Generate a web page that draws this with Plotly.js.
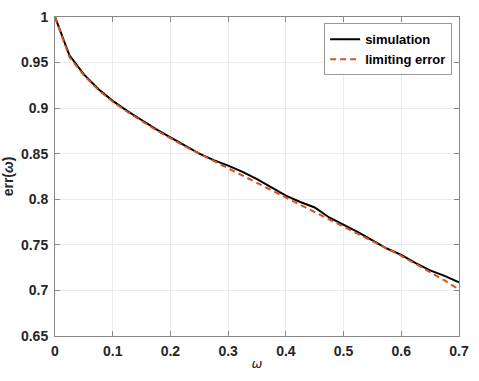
<!DOCTYPE html>
<html>
<head>
<meta charset="utf-8">
<script src="https://cdn.plot.ly/plotly-3.0.1.min.js"></script>
<style>html,body{margin:0;padding:0;background:#fff;}#chart{width:479px;height:381px;}</style>
</head>
<body>
<div id="chart"></div>
<script>
const omega = [0, 0.025, 0.05, 0.075, 0.1, 0.125, 0.15, 0.175, 0.2, 0.225, 0.25, 0.275, 0.3, 0.325, 0.35, 0.375, 0.4, 0.425, 0.45, 0.475, 0.5, 0.525, 0.55, 0.575, 0.6, 0.625, 0.65, 0.675, 0.7];
const simulation = [1.000, 0.958, 0.937, 0.921, 0.908, 0.897, 0.887, 0.877, 0.868, 0.859, 0.850, 0.843, 0.837, 0.830, 0.822, 0.813, 0.804, 0.797, 0.791, 0.780, 0.772, 0.764, 0.755, 0.746, 0.739, 0.730, 0.722, 0.716, 0.709];
const limitingError = [1.000, 0.956, 0.936, 0.920, 0.907, 0.896, 0.886, 0.876, 0.867, 0.858, 0.850, 0.842, 0.834, 0.826, 0.818, 0.810, 0.802, 0.794, 0.786, 0.778, 0.770, 0.762, 0.754, 0.746, 0.738, 0.729, 0.720, 0.711, 0.701];
const xTickVals = [0, 0.1, 0.2, 0.3, 0.4, 0.5, 0.6, 0.7];
const xTickText = ['0', '0.1', '0.2', '0.3', '0.4', '0.5', '0.6', '0.7'];
const yTickVals = [0.65, 0.7, 0.75, 0.8, 0.85, 0.9, 0.95, 1];
const yTickText = ['0.65', '0.7', '0.75', '0.8', '0.85', '0.9', '0.95', '1'];

const traces = [
  {x: omega, y: simulation, name: 'simulation', mode: 'lines', line: {color: '#000000', width: 2}},
  {x: omega, y: limitingError, name: 'limiting error', mode: 'lines', line: {color: '#D95319', width: 2, dash: '6px,4px'}}
];
const tickFont = {family: 'Liberation Sans, Arial, sans-serif', size: 14, color: '#262626', weight: 'bold'};
const layout = {
  width: 479, height: 381,
  margin: {l: 55, r: 20, t: 17, b: 45},
  paper_bgcolor: '#ffffff', plot_bgcolor: '#ffffff',
  showlegend: true,
  legend: {x: 0.983, y: 0.98, xanchor: 'right', yanchor: 'top', bgcolor: '#ffffff', bordercolor: '#999999', borderwidth: 1,
    font: {family: 'Liberation Sans, Arial, sans-serif', size: 13, color: '#000000', weight: 'bold'}, tracegroupgap: 0},
  xaxis: {range: [0, 0.7], tickvals: xTickVals, ticktext: xTickText, ticks: 'inside', ticklen: 5, tickcolor: '#888888',
    showline: true, linecolor: '#888888', linewidth: 1, mirror: 'ticks', showgrid: true, gridcolor: '#ebebeb', zeroline: false,
    tickfont: tickFont, ticklabelstandoff: 2,
    title: {text: '<i>ω</i>', font: {family: 'DejaVu Sans, sans-serif', size: 13, color: '#262626'}, standoff: 1}},
  yaxis: {range: [0.65, 1], tickvals: yTickVals, ticktext: yTickText, ticks: 'inside', ticklen: 5, tickcolor: '#888888',
    showline: true, linecolor: '#888888', linewidth: 1, mirror: 'ticks', showgrid: true, gridcolor: '#ebebeb', zeroline: false,
    tickfont: tickFont, ticklabelstandoff: 3,
    title: {text: 'err(<i>ω</i>)', font: {family: 'Liberation Sans, Arial, sans-serif', size: 14, color: '#262626', weight: 'bold'}, standoff: 4}}
};
Plotly.newPlot('chart', traces, layout, {displayModeBar: false, staticPlot: true});
</script>
</body>
</html>
